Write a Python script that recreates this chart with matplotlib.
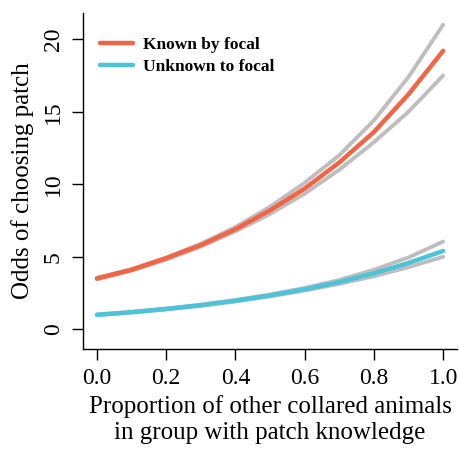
import matplotlib.pyplot as plt

# proportion of other collared animals with patch knowledge
prop = [0.0, 0.1, 0.2, 0.3, 0.4, 0.5, 0.6, 0.7, 0.8, 0.9, 1.0]

# odds of choosing patch
known = [3.5, 4.1, 4.9, 5.8, 6.9, 8.2, 9.7, 11.5, 13.6, 16.2, 19.2]
known_hi = [3.55, 4.15, 4.95, 5.9, 7.05, 8.45, 10.1, 12.0, 14.4, 17.4, 21.0]
known_lo = [3.45, 4.05, 4.8, 5.7, 6.75, 7.95, 9.35, 11.0, 12.9, 15.0, 17.5]

unknown = [1.0, 1.18, 1.4, 1.66, 1.97, 2.33, 2.76, 3.26, 3.86, 4.57, 5.4]
unknown_hi = [1.02, 1.2, 1.43, 1.7, 2.02, 2.4, 2.85, 3.4, 4.1, 4.95, 6.05]
unknown_lo = [0.98, 1.16, 1.37, 1.62, 1.92, 2.27, 2.67, 3.13, 3.66, 4.28, 5.0]

xticks = [0.0, 0.2, 0.4, 0.6, 0.8, 1.0]
yticks = [0, 5, 10, 15, 20]

plt.rcParams['font.family'] = ['Liberation Serif', 'DejaVu Serif']

fig = plt.figure(figsize=(4.59, 4.5), dpi=100)
ax = fig.add_axes([0.181, 0.2244, 0.8146, 0.7474])

grey = '#BEBEBE'
orange = '#F26444'
teal = '#4BC3D9'

for ci in (known_hi, known_lo, unknown_hi, unknown_lo):
    ax.plot(prop, ci, color=grey, lw=2.8, solid_capstyle='round')
ax.plot(prop, known, color=orange, lw=3.2, solid_capstyle='round', label='Known by focal')
ax.plot(prop, unknown, color=teal, lw=3.2, solid_capstyle='round', label='Unknown to focal')

ax.set_xlim(-0.04, 1.04)
ax.set_ylim(-1.36, 21.83)
ax.set_xticks(xticks)
ax.set_xticklabels([f'{v:.1f}' for v in xticks])
ax.set_yticks(yticks)
ax.set_yticklabels([str(v) for v in yticks], rotation=90, va='center')

ax.spines['top'].set_visible(False)
ax.spines['right'].set_visible(False)
for s in ('left', 'bottom'):
    ax.spines[s].set_linewidth(1.0)
ax.tick_params(direction='out', length=8, width=1.0, labelsize=17, pad=6)

ax.set_xlabel('Proportion of other collared animals\nin group with patch knowledge',
              fontsize=18, linespacing=1.25, labelpad=4)
ax.set_ylabel('Odds of choosing patch', fontsize=18, labelpad=6)

ax.legend(loc='upper left', bbox_to_anchor=(0.0, 0.98), frameon=False,
          prop={'weight': 'bold', 'size': 12.5}, handlelength=1.9,
          handletextpad=0.55, labelspacing=0.35, borderaxespad=0.6)

fig.savefig('out.png', dpi=100)
